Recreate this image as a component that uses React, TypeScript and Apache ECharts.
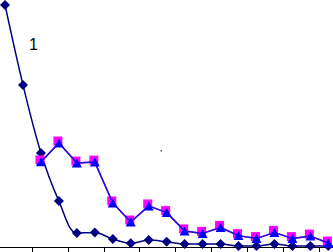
import React, { useEffect, useRef } from "react";
import * as echarts from "echarts";

const indices = [0, 1, 2, 3, 4, 5, 6, 7, 8, 9, 10, 11, 12, 13, 14, 15, 16, 17, 18];
const seriesA = [98.0, 65.7, 38.2, 18.8, 5.9, 6.1, 3.4, 1.7, 3.0, 2.3, 1.4, 1.4, 1.4, 0.6, 0.6, 1.4, 0.6, 0.6, 0.6];
const seriesB = [null, null, 34.6, 42.2, 34.1, 34.5, 18.0, 10.3, 16.8, 14.1, 6.7, 5.7, 8.1, 4.8, 3.6, 6.1, 3.6, 4.6, 1.8];
const tickValues = [1.5, 3.5, 5.5, 7.5, 9.5, 11.5, 13.5, 15.5, 17.5];
const annotationText = "1";

function pairs(values: (number | null)[]) {
  const out: [number, number][] = [];
  values.forEach((v, i) => {
    if (v !== null) out.push([indices[i], v]);
  });
  return out;
}

export default function App() {
  const ref = useRef<HTMLDivElement>(null);
  useEffect(() => {
    if (!ref.current) return;
    const chart = echarts.init(ref.current, undefined, { renderer: "svg" });
    chart.setOption({
      animation: false,
      backgroundColor: "#ffffff",
      grid: { left: 0, right: 0, top: 0, bottom: 4.5 },
      xAxis: {
        type: "value",
        min: -0.28,
        max: 18.26,
        splitLine: { show: false },
        axisLine: { show: true, onZero: false, lineStyle: { color: "#000000", width: 1 } },
        axisTick: { show: true, customValues: tickValues, length: 6, lineStyle: { color: "#000000", width: 1 } },
        axisLabel: { show: false },
      },
      yAxis: {
        type: "value",
        min: 0,
        max: 100,
        show: false,
        splitLine: { show: false },
      },
      graphic: [
        {
          type: "text",
          left: 29,
          top: 36,
          style: { text: annotationText, font: "16px 'Liberation Sans', Arial, sans-serif", fill: "#000000" },
        },
        {
          type: "rect",
          shape: { x: 160.5, y: 150, width: 1.5, height: 1.5 },
          style: { fill: "#555555" },
        },
      ],
      series: [
        {
          type: "line",
          data: pairs(seriesA),
          smooth: 0.35,
          symbol: "diamond",
          symbolSize: [10, 10],
          clip: false,
          lineStyle: { color: "#000080", width: 1.5 },
          itemStyle: { color: "#000080" },
          z: 3,
        },
        {
          type: "line",
          data: pairs(seriesB),
          symbol: "rect",
          symbolSize: [9, 9],
          symbolOffset: [-1, -2],
          clip: false,
          lineStyle: { color: "#ff00ff", width: 1.5 },
          itemStyle: { color: "#ff00ff" },
          z: 4,
        },
        {
          type: "line",
          data: pairs(seriesB),
          symbol: "triangle",
          symbolSize: [10, 9],
          clip: false,
          lineStyle: { color: "#1414d8", width: 1.5 },
          itemStyle: { color: "#0000ff" },
          z: 5,
        },
      ],
    });
    return () => chart.dispose();
  }, []);
  return (
    <div
      ref={ref}
      style={{ position: "fixed", left: 0, top: 0, width: 333, height: 252 }}
    />
  );
}
